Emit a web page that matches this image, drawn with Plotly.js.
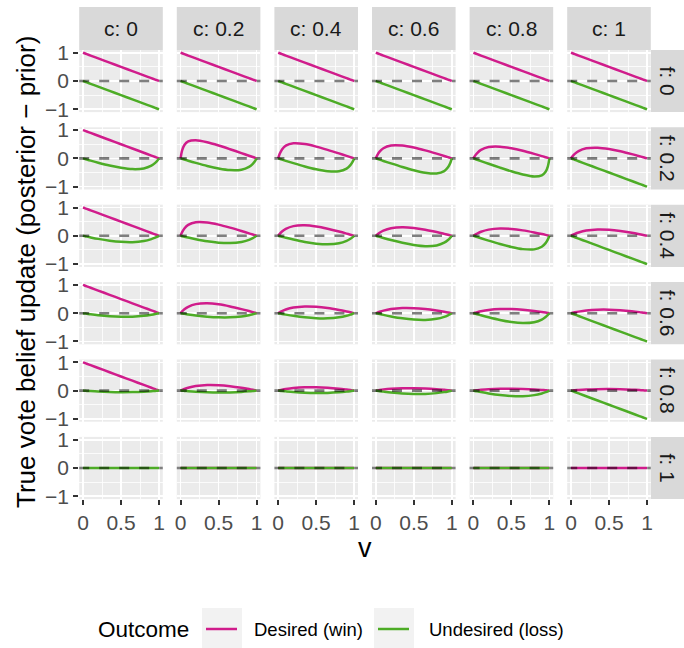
<!DOCTYPE html>
<html><head><meta charset="utf-8">
<script src="https://cdn.plot.ly/plotly-3.0.1.min.js"></script>
<style>html,body{margin:0;padding:0;background:#fff}</style>
</head><body><div id="chart" style="width:684px;height:648px"></div>
<script>
// ---------------- data ----------------
const cLevels = ['0', '0.2', '0.4', '0.6', '0.8', '1'];
const fLevels = ['0', '0.2', '0.4', '0.6', '0.8', '1'];
const vTicks = ['0', '0.5', '1'];
const yTicks = ['\u22121', '0', '1'];
const seriesNames = ['Desired (win)', 'Undesired (loss)'];
const vGrid = [0, 0.02, 0.05, 0.1, 0.2, 0.35, 0.5, 0.65, 0.8, 0.9, 0.95, 0.98, 1];

const fullWin  = [1, 0.98, 0.95, 0.9, 0.8, 0.65, 0.5, 0.35, 0.2, 0.1, 0.05, 0.02, 0];
const fullLoss = [0, -0.02, -0.05, -0.1, -0.2, -0.35, -0.5, -0.65, -0.8, -0.9, -0.95, -0.98, -1];
const flat     = [0, 0, 0, 0, 0, 0, 0, 0, 0, 0, 0, 0, 0];

// Desired (win) update, one list per f row, entries by c
const winF0 = [fullWin, fullWin, fullWin, fullWin, fullWin, fullWin];
const winF02 = [
  fullWin,
  [0, 0.28, 0.475, 0.60, 0.64, 0.569, 0.455, 0.325, 0.188, 0.095, 0.048, 0.019, 0],
  [0, 0.163, 0.317, 0.45, 0.533, 0.506, 0.417, 0.303, 0.178, 0.09, 0.045, 0.018, 0],
  [0, 0.115, 0.238, 0.36, 0.457, 0.455, 0.385, 0.284, 0.168, 0.086, 0.043, 0.017, 0],
  [0, 0.089, 0.19, 0.30, 0.40, 0.414, 0.357, 0.268, 0.16, 0.082, 0.041, 0.017, 0],
  [0, 0.073, 0.158, 0.257, 0.356, 0.379, 0.333, 0.253, 0.152, 0.078, 0.04, 0.016, 0]
];
const winF04 = [
  fullWin,
  [0, 0.128, 0.259, 0.386, 0.48, 0.471, 0.395, 0.29, 0.171, 0.087, 0.044, 0.018, 0],
  [0, 0.068, 0.15, 0.245, 0.343, 0.369, 0.326, 0.248, 0.15, 0.077, 0.039, 0.016, 0],
  [0, 0.047, 0.106, 0.18, 0.267, 0.303, 0.278, 0.217, 0.133, 0.069, 0.035, 0.014, 0],
  [0, 0.035, 0.081, 0.142, 0.218, 0.258, 0.242, 0.192, 0.12, 0.063, 0.032, 0.013, 0],
  [0, 0.029, 0.066, 0.117, 0.185, 0.224, 0.214, 0.173, 0.109, 0.057, 0.029, 0.012, 0]
];
const winF06 = [
  fullWin,
  [0, 0.061, 0.136, 0.225, 0.32, 0.35, 0.313, 0.239, 0.145, 0.075, 0.038, 0.015, 0],
  [0, 0.032, 0.073, 0.129, 0.2, 0.239, 0.227, 0.182, 0.114, 0.06, 0.031, 0.012, 0],
  [0, 0.021, 0.05, 0.09, 0.145, 0.182, 0.179, 0.147, 0.094, 0.05, 0.026, 0.01, 0],
  [0, 0.016, 0.038, 0.069, 0.114, 0.147, 0.147, 0.123, 0.08, 0.043, 0.022, 0.009, 0],
  [0, 0.013, 0.031, 0.056, 0.094, 0.123, 0.125, 0.106, 0.07, 0.038, 0.019, 0.008, 0]
];
const winF08 = [
  fullWin,
  [0, 0.024, 0.056, 0.1, 0.16, 0.198, 0.192, 0.157, 0.1, 0.053, 0.027, 0.011, 0],
  [0, 0.012, 0.029, 0.053, 0.089, 0.117, 0.119, 0.101, 0.067, 0.036, 0.019, 0.008, 0],
  [0, 0.008, 0.019, 0.036, 0.062, 0.083, 0.086, 0.075, 0.05, 0.027, 0.014, 0.006, 0],
  [0, 0.006, 0.015, 0.027, 0.047, 0.064, 0.068, 0.059, 0.04, 0.022, 0.011, 0.005, 0],
  [0, 0.005, 0.012, 0.022, 0.038, 0.052, 0.056, 0.049, 0.033, 0.018, 0.01, 0.004, 0]
];
const winF1 = [null, flat, flat, flat, flat, flat];

// Undesired (loss) update
const lossF0 = [fullLoss, fullLoss, fullLoss, fullLoss, fullLoss, fullLoss];
const lossF02 = [
  [0, -0.016, -0.04, -0.078, -0.152, -0.253, -0.333, -0.379, -0.356, -0.257, -0.158, -0.073, 0],
  [0, -0.017, -0.041, -0.082, -0.16, -0.268, -0.357, -0.414, -0.4, -0.3, -0.19, -0.089, 0],
  [0, -0.017, -0.043, -0.086, -0.168, -0.284, -0.385, -0.455, -0.457, -0.36, -0.238, -0.115, 0],
  [0, -0.018, -0.045, -0.09, -0.178, -0.303, -0.417, -0.506, -0.533, -0.45, -0.317, -0.163, 0],
  [0, -0.019, -0.048, -0.095, -0.188, -0.325, -0.455, -0.569, -0.64, -0.6, -0.475, -0.28, 0],
  fullLoss
];
const lossF04 = [
  [0, -0.012, -0.029, -0.057, -0.109, -0.173, -0.214, -0.224, -0.185, -0.117, -0.066, -0.029, 0],
  [0, -0.013, -0.032, -0.063, -0.12, -0.192, -0.242, -0.258, -0.218, -0.142, -0.081, -0.035, 0],
  [0, -0.014, -0.035, -0.069, -0.133, -0.217, -0.278, -0.303, -0.267, -0.18, -0.106, -0.047, 0],
  [0, -0.016, -0.039, -0.077, -0.15, -0.248, -0.326, -0.369, -0.343, -0.245, -0.15, -0.068, 0],
  [0, -0.018, -0.044, -0.087, -0.171, -0.29, -0.395, -0.471, -0.48, -0.386, -0.259, -0.128, 0],
  fullLoss
];
const lossF06 = [
  [0, -0.008, -0.019, -0.038, -0.07, -0.106, -0.125, -0.123, -0.094, -0.056, -0.031, -0.013, 0],
  [0, -0.009, -0.022, -0.043, -0.08, -0.123, -0.147, -0.147, -0.114, -0.069, -0.038, -0.016, 0],
  [0, -0.01, -0.026, -0.05, -0.094, -0.147, -0.179, -0.182, -0.145, -0.09, -0.05, -0.021, 0],
  [0, -0.012, -0.031, -0.06, -0.114, -0.182, -0.227, -0.239, -0.2, -0.129, -0.073, -0.032, 0],
  [0, -0.015, -0.038, -0.075, -0.145, -0.239, -0.313, -0.35, -0.32, -0.225, -0.136, -0.061, 0],
  fullLoss
];
const lossF08 = [
  [0, -0.004, -0.01, -0.018, -0.033, -0.049, -0.056, -0.052, -0.038, -0.022, -0.012, -0.005, 0],
  [0, -0.005, -0.011, -0.022, -0.04, -0.059, -0.068, -0.064, -0.047, -0.027, -0.015, -0.006, 0],
  [0, -0.006, -0.014, -0.027, -0.05, -0.075, -0.086, -0.083, -0.062, -0.036, -0.019, -0.008, 0],
  [0, -0.008, -0.019, -0.036, -0.067, -0.101, -0.119, -0.117, -0.089, -0.053, -0.029, -0.012, 0],
  [0, -0.011, -0.027, -0.053, -0.1, -0.157, -0.192, -0.198, -0.16, -0.1, -0.056, -0.024, 0],
  fullLoss
];
const lossF1 = [flat, flat, flat, flat, flat, null];

const winRows  = [winF0, winF02, winF04, winF06, winF08, winF1];
const lossRows = [lossF0, lossF02, lossF04, lossF06, lossF08, lossF1];

// ---------------- styling / layout ----------------
const COL_WIN = '#D01C8B', COL_LOSS = '#4DAC26';
const FONT = 'Liberation Sans, Arial, Helvetica, sans-serif';
const W = 684, H = 648;
const PW = 83.6, PH = 62.2;
const colLeft = c => 79.2 + 97.6 * c;
const rowTop = r => 49.9 + 77.4 * r;
const px = x => x / W;
const py = y => 1 - y / H;

const traces = [];
const layout = {
  width: W, height: H, autosize: false,
  margin: {l: 0, r: 0, t: 0, b: 0, pad: 0},
  paper_bgcolor: '#FFFFFF', plot_bgcolor: '#EBEBEB',
  font: {family: FONT, color: '#000'},
  showlegend: false,
  shapes: [], annotations: []
};

for (let r = 0; r < 6; r++) {
  for (let c = 0; c < 6; c++) {
    const idx = r * 6 + c + 1;
    const sfx = idx === 1 ? '' : String(idx);
    const L = colLeft(c), T = rowTop(r);
    layout['xaxis' + sfx] = {
      domain: [px(L), px(L + PW)], anchor: 'y' + sfx,
      range: [-0.05, 1.05], tickvals: [0, 0.5, 1], ticktext: vTicks,
      showticklabels: r === 5, ticks: r === 5 ? 'outside' : '',
      ticklen: 5, tickwidth: 2, tickcolor: '#333333',
      tickfont: {size: 21, color: '#4D4D4D', family: FONT},
      showgrid: true, gridcolor: '#FFFFFF', gridwidth: 1.6,
      minor: {tickvals: [0.25, 0.75], showgrid: true, gridcolor: '#FFFFFF', gridwidth: 0.8, ticks: ''},
      zeroline: false, showline: false, fixedrange: true
    };
    layout['yaxis' + sfx] = {
      domain: [py(T + PH), py(T)], anchor: 'x' + sfx,
      range: [-1.1, 1.1], tickvals: [-1, 0, 1], ticktext: yTicks,
      showticklabels: c === 0, ticks: c === 0 ? 'outside' : '',
      ticklen: 5, tickwidth: 2, tickcolor: '#333333',
      tickfont: {size: 21, color: '#4D4D4D', family: FONT},
      showgrid: true, gridcolor: '#FFFFFF', gridwidth: 1.6,
      minor: {tickvals: [-0.5, 0.5], showgrid: true, gridcolor: '#FFFFFF', gridwidth: 0.8, ticks: ''},
      zeroline: false, showline: false, fixedrange: true
    };
    const wy = winRows[r][c], ly = lossRows[r][c];
    if (wy) traces.push({type: 'scatter', mode: 'lines', x: vGrid, y: wy, xaxis: 'x' + sfx, yaxis: 'y' + sfx,
      name: seriesNames[0], line: {color: COL_WIN, width: 2.5, shape: 'spline', smoothing: 0.8}, hoverinfo: 'skip'});
    if (ly) traces.push({type: 'scatter', mode: 'lines', x: vGrid, y: ly, xaxis: 'x' + sfx, yaxis: 'y' + sfx,
      name: seriesNames[1], line: {color: COL_LOSS, width: 2.5, shape: 'spline', smoothing: 0.8}, hoverinfo: 'skip'});
    // dashed reference line at 0
    layout.shapes.push({type: 'line', xref: 'x' + sfx + ' domain', yref: 'y' + sfx, x0: 0, x1: 1, y0: 0, y1: 0,
      line: {color: 'rgba(0,0,0,0.5)', width: 2.6, dash: '10px,10px'}, layer: 'above'});
  }
}

// top strips (c)
for (let c = 0; c < 6; c++) {
  const L = colLeft(c);
  layout.shapes.push({type: 'rect', xref: 'paper', yref: 'paper', x0: px(L), x1: px(L + PW), y0: py(50), y1: py(7),
    fillcolor: '#D9D9D9', line: {width: 0}, layer: 'below'});
  layout.annotations.push({xref: 'paper', yref: 'paper', x: px(L + PW / 2), y: py(28.5), text: 'c: ' + cLevels[c],
    showarrow: false, xanchor: 'center', yanchor: 'middle', font: {size: 21, color: '#1A1A1A', family: FONT}});
}
// right strips (f)
for (let r = 0; r < 6; r++) {
  const T = rowTop(r);
  layout.shapes.push({type: 'rect', xref: 'paper', yref: 'paper', x0: px(651), x1: px(684), y0: py(T + PH), y1: py(T),
    fillcolor: '#D9D9D9', line: {width: 0}, layer: 'below'});
  layout.annotations.push({xref: 'paper', yref: 'paper', x: px(667.5), y: py(T + PH / 2), text: 'f: ' + fLevels[r],
    textangle: 90, showarrow: false, xanchor: 'center', yanchor: 'middle', font: {size: 21, color: '#1A1A1A', family: FONT}});
}
// axis titles
layout.annotations.push({xref: 'paper', yref: 'paper', x: px(26), y: py(272), text: 'True vote belief update (posterior \u2212 prior)',
  textangle: -90, showarrow: false, xanchor: 'center', yanchor: 'middle', font: {size: 26, color: '#000', family: FONT}});
layout.annotations.push({xref: 'paper', yref: 'paper', x: px(365), y: py(548), text: 'v',
  showarrow: false, xanchor: 'center', yanchor: 'middle', font: {size: 27, color: '#000', family: FONT}});

// legend (drawn manually in ggplot style)
layout.annotations.push({xref: 'paper', yref: 'paper', x: px(96), y: py(629), text: 'Outcome',
  showarrow: false, xanchor: 'left', yanchor: 'middle', font: {size: 22.5, color: '#000', family: FONT}});
const keyLeft = [202, 374], labelLeft = [252, 427], keyCols = [COL_WIN, COL_LOSS];
for (let i = 0; i < 2; i++) {
  layout.shapes.push({type: 'rect', xref: 'paper', yref: 'paper', x0: px(keyLeft[i]), x1: px(keyLeft[i] + 40),
    y0: py(648), y1: py(608), fillcolor: '#F2F2F2', line: {width: 0}, layer: 'below'});
  layout.shapes.push({type: 'line', xref: 'paper', yref: 'paper', x0: px(keyLeft[i] + 4), x1: px(keyLeft[i] + 35),
    y0: py(629), y1: py(629), line: {color: keyCols[i], width: 2.5}});
  layout.annotations.push({xref: 'paper', yref: 'paper', x: px(labelLeft[i]), y: py(629), text: seriesNames[i],
    showarrow: false, xanchor: 'left', yanchor: 'middle', font: {size: 18.5, color: '#000', family: FONT}});
}

Plotly.newPlot('chart', traces, layout, {displayModeBar: false, staticPlot: true});
</script>
</body></html>
